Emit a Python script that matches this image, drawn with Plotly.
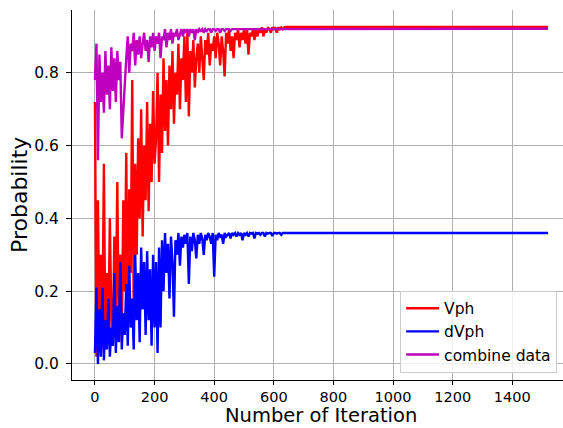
import plotly.graph_objects as go

# iteration index (x axis)
iters_noisy = list(range(0, 705, 5))
iters_tail = [740, 780, 820, 860, 900, 940, 980, 1020, 1060, 1100, 1140, 1180,
              1220, 1260, 1300, 1340, 1380, 1420, 1460, 1500, 1520]
iterations = iters_noisy + iters_tail

vph = [
    # 0-100
    0.72, 0.02, 0.45, 0.05, 0.30, 0.10, 0.55, 0.04, 0.25, 0.08, 0.40, 0.12, 0.05, 0.35, 0.15, 0.50, 0.08, 0.30, 0.06, 0.45, 0.20,
    # 105-200
    0.58, 0.10, 0.48, 0.25, 0.78, 0.15, 0.55, 0.30, 0.62, 0.40, 0.70, 0.35, 0.60, 0.45, 0.72, 0.42, 0.66, 0.50, 0.75, 0.55,
    # 205-300
    0.62, 0.80, 0.50, 0.74, 0.58, 0.84, 0.64, 0.78, 0.60, 0.82, 0.70, 0.86, 0.66, 0.80, 0.74, 0.88, 0.70, 0.84, 0.78, 0.90,
    # 305-400
    0.72, 0.91, 0.68, 0.86, 0.80, 0.89, 0.76, 0.84, 0.88, 0.80, 0.90, 0.84, 0.78, 0.89, 0.85, 0.91, 0.82, 0.88, 0.86, 0.90,
    # 405-500
    0.84, 0.91, 0.88, 0.82, 0.90, 0.86, 0.79, 0.91, 0.88, 0.92, 0.86, 0.90, 0.84, 0.91, 0.89, 0.92, 0.87, 0.91, 0.89, 0.92,
    # 505-600
    0.88, 0.92, 0.85, 0.91, 0.90, 0.92, 0.89, 0.92, 0.90, 0.92, 0.91, 0.925, 0.90, 0.92, 0.91, 0.925, 0.92, 0.91, 0.925, 0.92,
    # 605-700
    0.925, 0.91, 0.925, 0.92, 0.925, 0.92, 0.925, 0.926, 0.925, 0.926, 0.926, 0.926, 0.926, 0.926, 0.926, 0.926, 0.926, 0.926, 0.926, 0.926,
    # tail
    0.926, 0.926, 0.926, 0.926, 0.926, 0.926, 0.926, 0.926, 0.926, 0.926, 0.926, 0.926,
    0.926, 0.926, 0.926, 0.926, 0.926, 0.926, 0.926, 0.926, 0.926,
]

dvph = [
    # 0-100
    0.03, 0.21, 0.00, 0.15, 0.02, 0.21, 0.01, 0.12, 0.04, 0.18, 0.02, 0.10, 0.05, 0.25, 0.03, 0.16, 0.06, 0.28, 0.04, 0.14, 0.08,
    # 105-200
    0.22, 0.05, 0.27, 0.10, 0.18, 0.04, 0.30, 0.12, 0.25, 0.06, 0.32, 0.15, 0.28, 0.08, 0.31, 0.12, 0.26, 0.05, 0.30, 0.10,
    # 205-300
    0.28, 0.03, 0.32, 0.10, 0.34, 0.20, 0.36, 0.25, 0.33, 0.18, 0.35, 0.28, 0.13, 0.34, 0.30, 0.36, 0.27, 0.35, 0.32, 0.355,
    # 305-400
    0.33, 0.36, 0.22, 0.35, 0.31, 0.36, 0.34, 0.29, 0.355, 0.33, 0.36, 0.345, 0.30, 0.355, 0.34, 0.36, 0.35, 0.33, 0.36, 0.24,
    # 405-500
    0.355, 0.34, 0.36, 0.35, 0.355, 0.33, 0.36, 0.35, 0.355, 0.36, 0.345, 0.36, 0.355, 0.36, 0.35, 0.36, 0.355, 0.36, 0.34, 0.36,
    # 505-600
    0.355, 0.36, 0.35, 0.36, 0.358, 0.36, 0.345, 0.36, 0.358, 0.36, 0.355, 0.36, 0.36, 0.35, 0.36, 0.358, 0.36, 0.36, 0.352, 0.36,
    # 605-700
    0.36, 0.358, 0.36, 0.36, 0.355, 0.36, 0.36, 0.36, 0.358, 0.36, 0.36, 0.36, 0.36, 0.36, 0.36, 0.36, 0.36, 0.36, 0.36, 0.36,
    # tail
    0.36, 0.36, 0.36, 0.36, 0.36, 0.36, 0.36, 0.36, 0.36, 0.36, 0.36, 0.36,
    0.36, 0.36, 0.36, 0.36, 0.36, 0.36, 0.36, 0.36, 0.36,
]

combine = [
    # 0-100
    0.78, 0.88, 0.56, 0.85, 0.72, 0.80, 0.69, 0.86, 0.74, 0.82, 0.70, 0.87, 0.75, 0.84, 0.72, 0.86, 0.78, 0.83, 0.62, 0.70, 0.80,
    # 105-200
    0.84, 0.90, 0.80, 0.88, 0.86, 0.91, 0.82, 0.89, 0.85, 0.90, 0.84, 0.88, 0.91, 0.86, 0.89, 0.83, 0.90, 0.87, 0.91, 0.86,
    # 205-300
    0.90, 0.88, 0.91, 0.84, 0.90, 0.89, 0.92, 0.87, 0.91, 0.89, 0.92, 0.88, 0.91, 0.90, 0.92, 0.89, 0.91, 0.92, 0.90, 0.92,
    # 305-400
    0.91, 0.92, 0.90, 0.92, 0.91, 0.92, 0.89, 0.92, 0.91, 0.92, 0.915, 0.92, 0.91, 0.92, 0.915, 0.92, 0.92, 0.91, 0.92, 0.92,
    # 405-500
    0.915, 0.92, 0.92, 0.91, 0.92, 0.92, 0.915, 0.92, 0.92, 0.92, 0.915, 0.92, 0.92, 0.92, 0.92, 0.92, 0.921, 0.92, 0.921, 0.921,
    # 505-600
    0.921, 0.921, 0.921, 0.921, 0.921, 0.921, 0.921, 0.921, 0.921, 0.921, 0.921, 0.921, 0.921, 0.921, 0.921, 0.921, 0.921, 0.921, 0.921, 0.921,
    # 605-700
    0.921, 0.921, 0.921, 0.921, 0.921, 0.921, 0.921, 0.921, 0.921, 0.921, 0.921, 0.921, 0.921, 0.921, 0.921, 0.921, 0.921, 0.921, 0.921, 0.921,
    # tail
    0.921, 0.921, 0.921, 0.921, 0.921, 0.921, 0.921, 0.921, 0.921, 0.921, 0.921, 0.921,
    0.921, 0.921, 0.921, 0.921, 0.921, 0.921, 0.921, 0.921, 0.921,
]

x_ticks = [0, 200, 400, 600, 800, 1000, 1200, 1400]
y_ticks = [0.0, 0.2, 0.4, 0.6, 0.8]
y_tick_labels = ["0.0", "0.2", "0.4", "0.6", "0.8"]

fig = go.Figure()
fig.add_trace(go.Scatter(x=iterations, y=vph, mode="lines", name="Vph",
                         line=dict(color="#ff0000", width=2.4)))
fig.add_trace(go.Scatter(x=iterations, y=dvph, mode="lines", name="dVph",
                         line=dict(color="#0000ff", width=2.4)))
fig.add_trace(go.Scatter(x=iterations, y=combine, mode="lines", name="combine data",
                         line=dict(color="#bf00bf", width=2.4)))

font_family = "DejaVu Sans"
fig.update_layout(
    width=563, height=428,
    margin=dict(l=72, r=0, t=10, b=48),
    plot_bgcolor="white", paper_bgcolor="white",
    font=dict(family=font_family, size=13, color="black"),
    showlegend=True,
    legend=dict(x=0.988, y=0.02, xanchor="right", yanchor="bottom",
                bgcolor="rgba(255,255,255,0.8)", bordercolor="#cccccc", borderwidth=1,
                font=dict(size=15.5, family=font_family), tracegroupgap=0,
                itemwidth=33),
    xaxis=dict(range=[-77, 1570], tickvals=x_ticks, showgrid=True,
               gridcolor="#b0b0b0", gridwidth=0.8, zeroline=False,
               showline=True, linecolor="black", linewidth=1,
               ticks="outside", ticklen=4, tickcolor="black",
               tickfont=dict(size=14.5)),
    yaxis=dict(range=[-0.044, 0.9725], tickvals=y_ticks, ticktext=y_tick_labels,
               showgrid=True, gridcolor="#b0b0b0", gridwidth=0.8, zeroline=False,
               showline=True, linecolor="black", linewidth=1,
               ticks="outside", ticklen=5, tickcolor="black",
               tickfont=dict(size=15.5), ticklabelstandoff=4),
    annotations=[
        dict(text="Number of Iteration", xref="paper", yref="paper", x=0.507, y=0,
             xanchor="center", yanchor="bottom", yshift=-48, borderpad=0, showarrow=False,
             font=dict(size=19.5, family=font_family)),
        dict(text="Probability", xref="paper", yref="paper", x=-0.108, y=0.5,
             xanchor="center", yanchor="middle", textangle=-90, showarrow=False,
             font=dict(size=22, family=font_family)),
    ],
)

fig.write_html("out.html")
